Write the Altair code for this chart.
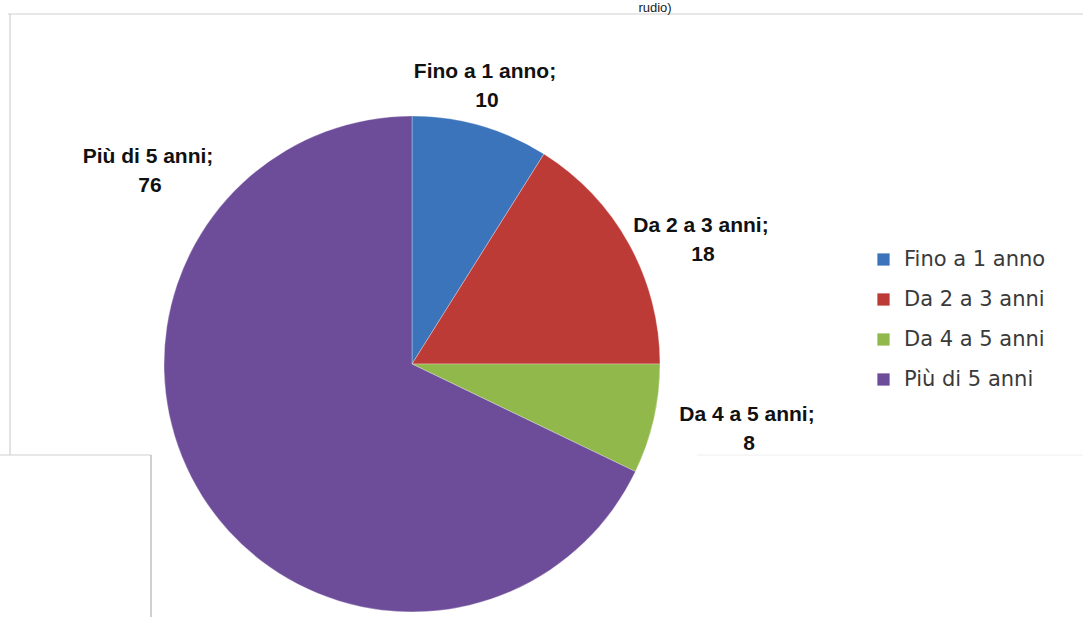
import altair as alt
import pandas as pd

categories = ["Fino a 1 anno", "Da 2 a 3 anni", "Da 4 a 5 anni", "Più di 5 anni"]
values = [10, 18, 8, 76]
colors = ["#3C74BC", "#BD3B37", "#90B84B", "#6D4D99"]

df = pd.DataFrame({"cat": categories, "val": values, "idx": list(range(len(categories)))})

W, H = 1083, 617
CX, CY, R = 412, 364, 248

pie = alt.Chart(df).mark_arc(outerRadius=R, stroke="#ffffff", strokeWidth=0.3).encode(
    theta=alt.Theta("val:Q", stack=True),
    order=alt.Order("idx:Q"),
    color=alt.Color(
        "cat:N",
        scale=alt.Scale(domain=categories, range=colors),
        sort=categories,
        legend=alt.Legend(
            title=None,
            orient="none",
            legendX=873,
            legendY=249,
            symbolType="square",
            symbolSize=150,
            symbolStrokeWidth=0,
            labelFontSize=21,
            labelFont="DejaVu Sans",
            labelColor="#3a3a3a",
            rowPadding=18,
            labelOffset=10,
        ),
    ),
    x=alt.value(CX),
    y=alt.value(CY),
)

# label anchor positions (layout only)
label_pos = {
    "Fino a 1 anno": (485, 72),
    "Da 2 a 3 anni": (701, 226),
    "Da 4 a 5 anni": (747, 415),
    "Più di 5 anni": (148, 157),
}

layers = [pie]
for cat, v in zip(categories, values):
    px, py = label_pos[cat]
    base = alt.Chart(df[df.cat == cat])
    style = dict(fontWeight="bold", fontSize=21, font="Liberation Sans",
                 color="#111111", align="center", baseline="middle")
    layers.append(
        base.mark_text(**style).encode(text=alt.value(cat + ";"), x=alt.value(px), y=alt.value(py))
    )
    layers.append(
        base.mark_text(**style).encode(text=alt.Text("val:Q"), x=alt.value(px + 2), y=alt.value(py + 29))
    )

# cropped title fragment at top
title_txt = alt.Chart(df.head(1)).mark_text(
    fontSize=13, font="Liberation Sans", color="#222222", align="center", baseline="alphabetic"
).encode(text=alt.value("rudio)"), x=alt.value(655), y=alt.value(12))

border_color = "#cfcfcf"
rules = [
    alt.Chart(df.head(1)).mark_rule(color=border_color, strokeWidth=1.2).encode(
        x=alt.value(8), x2=alt.value(W), y=alt.value(14)),
    alt.Chart(df.head(1)).mark_rule(color=border_color, strokeWidth=1.2).encode(
        x=alt.value(10), y=alt.value(14), y2=alt.value(455)),
    alt.Chart(df.head(1)).mark_rule(color=border_color, strokeWidth=1.2).encode(
        x=alt.value(0), x2=alt.value(151), y=alt.value(455)),
    alt.Chart(df.head(1)).mark_rule(color="#b0b0b0", strokeWidth=1.2).encode(
        x=alt.value(151), y=alt.value(455), y2=alt.value(H)),
    alt.Chart(df.head(1)).mark_rule(color="#eeeeee", strokeWidth=1).encode(
        x=alt.value(697), x2=alt.value(W), y=alt.value(455)),
]

chart = alt.layer(*rules, *layers, title_txt).properties(
    width=W, height=H, padding=0, autosize=alt.AutoSizeParams(type="none")
).configure_view(stroke=None)

chart.save("out.html", embed_options={"renderer": "svg", "actions": False})
